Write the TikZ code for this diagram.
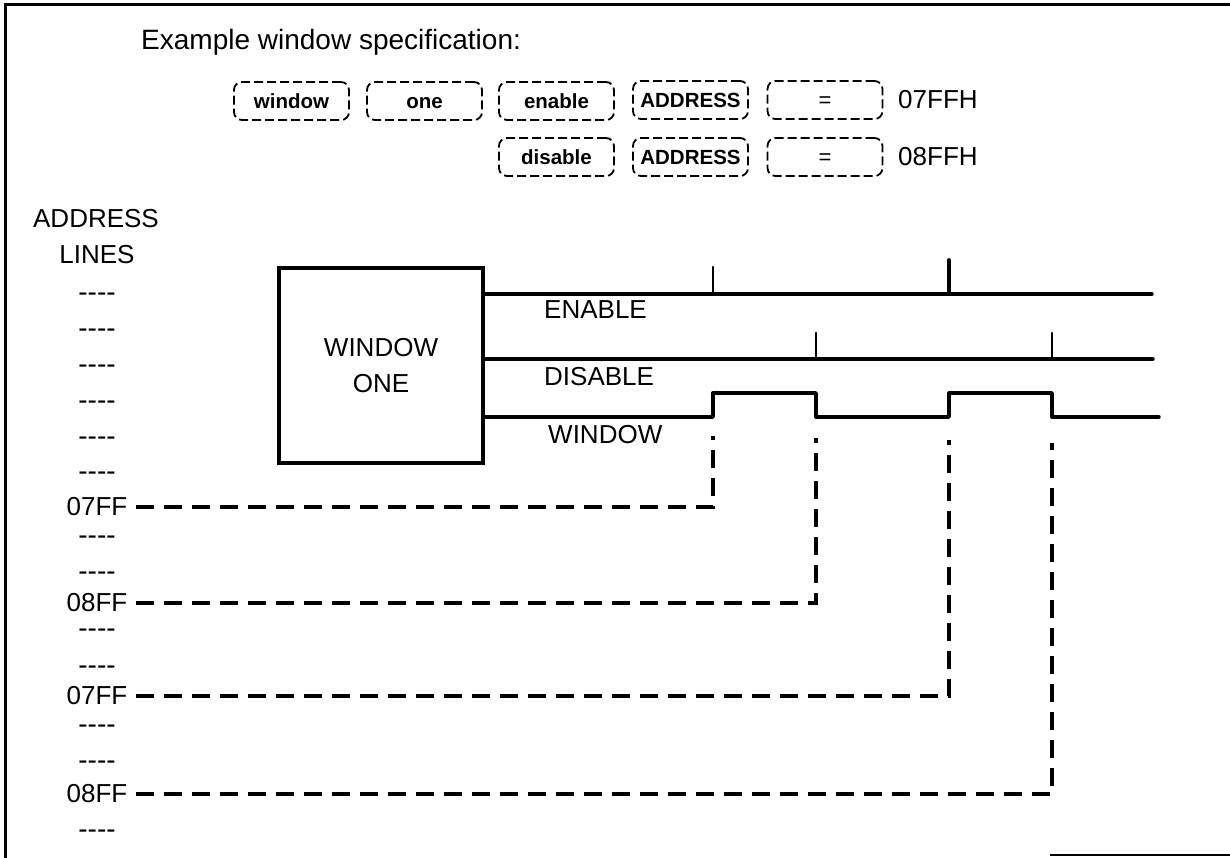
\documentclass[tikz,border=0pt]{standalone}
\usepackage{fontspec}
\setmainfont{Liberation Sans}
\begin{document}
\begin{tikzpicture}[x=1pt,y=-1pt,
  txt/.style={inner sep=0pt, font=\fontsize{26}{30}\selectfont},
  spec/.style={draw, rounded corners=8pt, dash pattern=on 9pt off 4pt, line width=1.8pt,
    minimum width=115pt, minimum height=38pt, inner sep=0pt, text height=15pt, text depth=0pt,
    font=\fontsize{20.5}{24}\selectfont\bfseries},
  eqbox/.style={spec, font=\fontsize{22}{24}\selectfont},
  sig/.style={line width=3.4pt, line cap=round, line join=round},
  addr/.style={line width=3.6pt, dash pattern=on 18pt off 10pt, shorten <=8pt},
  frame/.style={line width=3pt}]
\useasboundingbox (0,0) rectangle (1230,858);
% frame
\draw[frame] (5,858) -- (5,5) -- (1230,5);
\draw[line width=2.5pt] (1050,855) -- (1230,855);
% title
\node[txt, font=\fontsize{28}{32}\selectfont, anchor=base west] (title) at (141,50) {Example window specification:};
% specification boxes
\node[spec] (s1) at (291.5,101) {window};
\node[spec] (s2) at (424.5,101) {one};
\node[spec] (s3) at (556.5,101) {enable};
\node[spec] (s4) at (690.5,100) {ADDRESS};
\node[eqbox] (s5) at (825,100) {=};
\node[txt, anchor=west] (v1) at (898,100) {07FFH};
\node[spec] (s6) at (556.5,157) {disable};
\node[spec] (s7) at (690.5,157) {ADDRESS};
\node[eqbox] (s8) at (825,157) {=};
\node[txt, anchor=west] (v2) at (898,157) {08FFH};
% address lines column
\node[txt] (al1) at (96,219) {ADDRESS};
\node[txt] (al2) at (97,255) {LINES};
\foreach \y [count=\i] in {294,330,366,402,438,473,537,573,630,667,726,762,831}
  \node[txt, font=\fontsize{28}{30}\selectfont, anchor=base] (dl\i) at (97,\y+7.5) {-{}-{}-{}-};
\node[txt] (a1) at (97,507) {07FF};
\node[txt] (a2) at (97,603) {08FF};
\node[txt] (a3) at (97,696) {07FF};
\node[txt] (a4) at (97,794) {08FF};
% window box
\node[draw, line width=3.8pt, minimum width=204pt, minimum height=195pt, inner sep=0pt,
  align=center, font=\fontsize{26}{36}\selectfont] (wb) at (381,365.5) {WINDOW\\ONE};
% signal labels
\node[txt, anchor=west] (len) at (544,310) {ENABLE};
\node[txt, anchor=west] (ldis) at (544,377) {DISABLE};
\node[txt, anchor=west] (lwin) at (548,435) {WINDOW};
% enable signal
\coordinate (eE) at (1152,294);
\draw[sig] (wb.east |- eE) -- (eE);
\draw[sig, line width=2.8pt] (713,294) -- (713,267);
\draw[sig, line width=3.6pt] (949,294) -- (949,260);
% disable signal
\coordinate (dE) at (1153,359);
\draw[sig] (wb.east |- dE) -- (dE);
\draw[sig, line width=2.8pt] (816,359) -- (816,333);
\draw[sig, line width=2.8pt] (1052,359) -- (1052,333);
% window signal
\coordinate (wE) at (1159,417);
\draw[sig] (wb.east |- wE) -- (713,417) -- (713,393) -- (816,393) -- (816,417)
  -- (949,417) -- (949,393) -- (1052,393) -- (1052,417) -- (wE);
% dashed address connectors
\coordinate (t1) at (713,436);
\coordinate (t2) at (816,438);
\coordinate (t3) at (949,440);
\coordinate (t4) at (1052,443);
\draw[addr] (a1.east) -| (t1);
\draw[addr] (a2.east) -| (t2);
\draw[addr] (a3.east) -| (t3);
\draw[addr] (a4.east) -| (t4);
\end{tikzpicture}
\end{document}
